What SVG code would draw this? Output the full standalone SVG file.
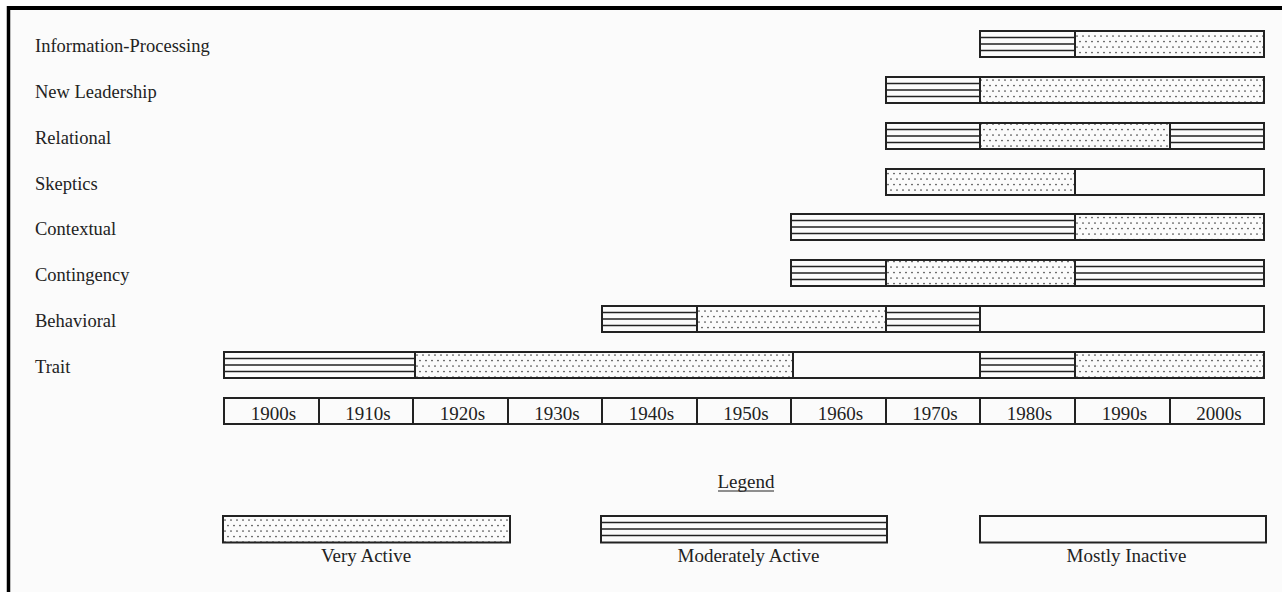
<svg xmlns="http://www.w3.org/2000/svg" width="1282" height="592" viewBox="0 0 1282 592">
<defs>
<pattern id="dots" patternUnits="userSpaceOnUse" x="0" y="0" width="12" height="11">
<rect width="12" height="11" fill="#fbfbfb"/>
<circle cx="3" cy="3" r="0.85" fill="#444"/>
<circle cx="9" cy="3" r="0.85" fill="#444"/>
<circle cx="6" cy="8.5" r="0.85" fill="#444"/>
<circle cx="0" cy="8.5" r="0.85" fill="#444"/>
<circle cx="12" cy="8.5" r="0.85" fill="#444"/>
</pattern>
<style>
.lbl{font-family:"Liberation Serif","Times New Roman",serif;font-size:18.5px;fill:#222}
.ax{font-family:"Liberation Serif","Times New Roman",serif;font-size:19px;fill:#222;text-anchor:middle}
.seg{stroke:#222;stroke-width:2}
.va{fill:url(#dots)}
.ma{fill:#fbfbfb}
.mi{fill:#fbfbfb}
.h{stroke:#222;stroke-width:1.6;fill:none}
</style>
</defs>
<rect x="0" y="0" width="1282" height="592" fill="#ffffff"/>
<rect x="9" y="8" width="1273" height="584" fill="#fbfbfb"/>
<g id="frame">
<line x1="7" y1="8" x2="1282" y2="8" stroke="#000" stroke-width="4"/>
<line x1="8.5" y1="6" x2="8.5" y2="592" stroke="#000" stroke-width="3.5"/>
</g>

<g id="row-information-processing">
<text class="lbl" x="35" y="52">Information-Processing</text>
<rect class="seg ma" x="980" y="31" width="95" height="26"/>
<path class="h" d="M980 37.5H1075M980 44H1075M980 50.5H1075"/>
<rect class="seg va" x="1075" y="31" width="189" height="26"/>
</g>

<g id="row-new-leadership">
<text class="lbl" x="35" y="98">New Leadership</text>
<rect class="seg ma" x="886" y="77" width="94" height="26"/>
<path class="h" d="M886 83.5H980M886 90H980M886 96.5H980"/>
<rect class="seg va" x="980" y="77" width="284" height="26"/>
</g>

<g id="row-relational">
<text class="lbl" x="35" y="144">Relational</text>
<rect class="seg ma" x="886" y="123" width="94" height="26"/>
<path class="h" d="M886 129.5H980M886 136H980M886 142.5H980"/>
<rect class="seg va" x="980" y="123" width="190" height="26"/>
<rect class="seg ma" x="1170" y="123" width="94" height="26"/>
<path class="h" d="M1170 129.5H1264M1170 136H1264M1170 142.5H1264"/>
</g>

<g id="row-skeptics">
<text class="lbl" x="35" y="190">Skeptics</text>
<rect class="seg va" x="886" y="169" width="189" height="26"/>
<rect class="seg mi" x="1075" y="169" width="189" height="26"/>
</g>

<g id="row-contextual">
<text class="lbl" x="35" y="235">Contextual</text>
<rect class="seg ma" x="791" y="214" width="284" height="26"/>
<path class="h" d="M791 220.5H1075M791 227H1075M791 233.5H1075"/>
<rect class="seg va" x="1075" y="214" width="189" height="26"/>
</g>

<g id="row-contingency">
<text class="lbl" x="35" y="281">Contingency</text>
<rect class="seg ma" x="791" y="260" width="95" height="26"/>
<path class="h" d="M791 266.5H886M791 273H886M791 279.5H886"/>
<rect class="seg va" x="886" y="260" width="189" height="26"/>
<rect class="seg ma" x="1075" y="260" width="189" height="26"/>
<path class="h" d="M1075 266.5H1264M1075 273H1264M1075 279.5H1264"/>
</g>

<g id="row-behavioral">
<text class="lbl" x="35" y="327">Behavioral</text>
<rect class="seg ma" x="602" y="306" width="95" height="26"/>
<path class="h" d="M602 312.5H697M602 319H697M602 325.5H697"/>
<rect class="seg va" x="697" y="306" width="189" height="26"/>
<rect class="seg ma" x="886" y="306" width="94" height="26"/>
<path class="h" d="M886 312.5H980M886 319H980M886 325.5H980"/>
<rect class="seg mi" x="980" y="306" width="284" height="26"/>
</g>

<g id="row-trait">
<text class="lbl" x="35" y="373">Trait</text>
<rect class="seg ma" x="224" y="352" width="191" height="26"/>
<path class="h" d="M224 358.5H415M224 365H415M224 371.5H415"/>
<rect class="seg va" x="415" y="352" width="378" height="26"/>
<rect class="seg mi" x="793" y="352" width="187" height="26"/>
<rect class="seg ma" x="980" y="352" width="95" height="26"/>
<path class="h" d="M980 358.5H1075M980 365H1075M980 371.5H1075"/>
<rect class="seg va" x="1075" y="352" width="189" height="26"/>
</g>

<g id="axis">
<rect class="seg mi" x="224" y="398" width="1040" height="26"/>
<path stroke="#222" stroke-width="2" d="M319 398V424M413 398V424M508 398V424M602 398V424M697 398V424M791 398V424M886 398V424M980 398V424M1075 398V424M1170 398V424"/>
<text class="ax" x="273.5" y="420">1900s</text>
<text class="ax" x="368" y="420">1910s</text>
<text class="ax" x="462.5" y="420">1920s</text>
<text class="ax" x="557" y="420">1930s</text>
<text class="ax" x="651.5" y="420">1940s</text>
<text class="ax" x="746" y="420">1950s</text>
<text class="ax" x="840.5" y="420">1960s</text>
<text class="ax" x="935" y="420">1970s</text>
<text class="ax" x="1029.5" y="420">1980s</text>
<text class="ax" x="1124.5" y="420">1990s</text>
<text class="ax" x="1219" y="420">2000s</text>
</g>

<g id="legend">
<text class="ax" x="746" y="488">Legend</text>
<line x1="718" y1="491" x2="774" y2="491" stroke="#222" stroke-width="1.2"/>
</g>
<g id="legend-very-active">
<rect class="seg va" x="223" y="516" width="287" height="26.5"/>
<text class="ax" x="366" y="562">Very Active</text>
</g>
<g id="legend-moderately-active">
<rect class="seg ma" x="601" y="516" width="286" height="26.5"/>
<path class="h" d="M601 522.5H887M601 529H887M601 535.5H887"/>
<text class="ax" x="748.5" y="562">Moderately Active</text>
</g>
<g id="legend-mostly-inactive">
<rect class="seg mi" x="980" y="516" width="286" height="26.5"/>
<text class="ax" x="1126.5" y="562">Mostly Inactive</text>
</g>
</svg>
